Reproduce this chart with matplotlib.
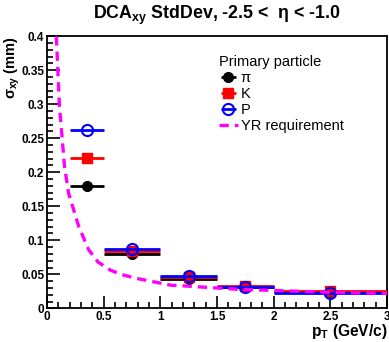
import numpy as np
import matplotlib
matplotlib.use("Agg")
import matplotlib.pyplot as plt
from matplotlib.ticker import MultipleLocator

plt.rcParams["font.family"] = ["Liberation Sans", "DejaVu Sans"]
plt.rcParams["mathtext.fontset"] = "custom"
plt.rcParams["mathtext.rm"] = "Liberation Sans"
plt.rcParams["mathtext.bf"] = "Liberation Sans:bold"
plt.rcParams["mathtext.it"] = "Liberation Sans:italic"

# pT bins (centres and half-widths)
pt_centers = [0.35, 0.75, 1.25, 1.75, 2.5]
pt_halfwidth = [0.15, 0.25, 0.25, 0.25, 0.5]

# DCA_xy std dev (mm) per species
sigma_pi = [0.180, 0.080, 0.0435, 0.0318, 0.0235]
sigma_k = [0.221, 0.084, 0.0465, 0.0330, 0.0255]
sigma_p = [0.262, 0.087, 0.0475, 0.0320, 0.0232]

# YR requirement curve
yr_pt = [0.082, 0.108, 0.153, 0.19, 0.28, 0.367, 0.45, 0.56, 0.65, 0.79, 1.09, 1.2, 1.68, 2.5, 3.0]
yr_sigma = [0.40, 0.30, 0.21, 0.169, 0.12, 0.086, 0.068, 0.056, 0.050, 0.044, 0.034, 0.033, 0.028, 0.0235, 0.022]

fig = plt.figure(figsize=(3.89, 3.42), dpi=100)
ax = fig.add_axes([0.121, 0.0985, 0.874, 0.7955])

h_pi = ax.errorbar(pt_centers, sigma_pi, xerr=pt_halfwidth, fmt="o", color="black",
                   markersize=7, elinewidth=2, capsize=0, label="π", zorder=3)
h_k = ax.errorbar(pt_centers, sigma_k, xerr=pt_halfwidth, fmt="s", color="red",
                  markersize=7, elinewidth=2, capsize=0, label="K", zorder=4)
h_p = ax.errorbar(pt_centers, sigma_p, xerr=pt_halfwidth, fmt="o", color="blue",
                  markerfacecolor="none", markeredgewidth=1.5, markersize=8,
                  elinewidth=2, capsize=0, label="P", zorder=5)
h_yr, = ax.plot(yr_pt, yr_sigma, color="#ff00ff", linewidth=2.4, dashes=(2.8, 1.8),
                label="YR requirement", zorder=6)

ax.set_xlim(0, 3)
ax.set_ylim(0, 0.4)
ax.xaxis.set_major_locator(MultipleLocator(0.5))
ax.xaxis.set_minor_locator(MultipleLocator(0.1))
ax.yaxis.set_major_locator(MultipleLocator(0.05))
ax.yaxis.set_minor_locator(MultipleLocator(0.01))
ax.xaxis.set_major_formatter(plt.FuncFormatter(lambda v, p: f"{v:g}"))
ax.yaxis.set_major_formatter(plt.FuncFormatter(lambda v, p: f"{v:g}"))
ax.tick_params(which="both", direction="in", top=False, right=False,
               labelsize=8.5, width=1.2)
ax.tick_params(which="major", length=9, pad=2)
ax.tick_params(which="minor", length=4.5)
for lab in ax.get_xticklabels() + ax.get_yticklabels():
    lab.set_fontweight("bold")
for s in ax.spines.values():
    s.set_linewidth(1.3)

fig.text(0.557, 0.955, r"DCA$_{\mathbf{xy}}$ StdDev, -2.5 <  η < -1.0",
         ha="center", va="center", fontsize=12.8, fontweight="bold")
ax.set_xlabel(r"p$_{\mathbf{T}}$ (GeV/c)", fontsize=11.2, fontweight="bold")
ax.xaxis.set_label_coords(1.0, -0.05)
ax.xaxis.label.set_horizontalalignment("right")
ax.set_ylabel(r"σ$_{\mathbf{xy}}$ (mm)", fontsize=10.5, fontweight="bold")
ax.yaxis.set_label_coords(-0.13, 1.0)
ax.yaxis.label.set_verticalalignment("top")
ax.yaxis.label.set_horizontalalignment("right")

leg = ax.legend(handles=[h_pi, h_k, h_p, h_yr], title="Primary particle",
                frameon=False, loc="upper left",
                bbox_to_anchor=(0.505, 0.93), fontsize=10.5, title_fontsize=10.5,
                handlelength=1.3, handletextpad=0.2, labelspacing=0.14,
                borderaxespad=0, borderpad=0)
leg._legend_box.align = "left"

fig.savefig("out.png", dpi=100)
